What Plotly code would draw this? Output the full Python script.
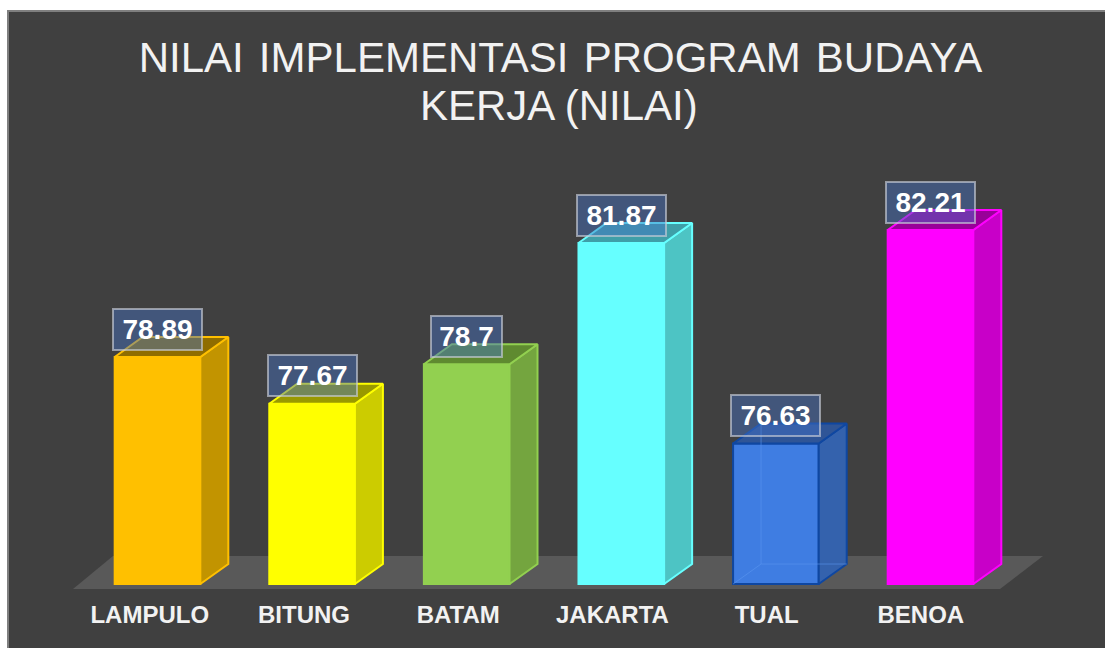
import plotly.graph_objects as go

categories = ["LAMPULO", "BITUNG", "BATAM", "JAKARTA", "TUAL", "BENOA"]
values = [78.89, 77.67, 78.7, 81.87, 76.63, 82.21]
labels = ["78.89", "77.67", "78.7", "81.87", "76.63", "82.21"]
front_colors = ["#ffc000", "#ffff00", "#92d050", "#66ffff", "#3f7de2", "#ff00ff"]
side_colors = ["#c29400", "#cccc00", "#74a53f", "#4dc4c4", "#3462ad", "#c800c8"]
top_colors = ["#8f6d00", "#999900", "#5f8a30", "#3f9fa8", "#2f5597", "#990099"]
edge_colors = ["#ffc000", "#ffff00", "#92d050", "#66ffff", "#0f47a1", "#ff00ff"]

BASE = 72.956
AXIS_MIN = 72.826
AXIS_MAX = 87.936
BAR_W = 0.554
DX = 0.181
DY = 0.523
FLOOR_BACK = 0.732
W, H = 1105, 648
ML, MT, MB = 8, 11, 59
PX = 154.6
x0_range = (ML - 157.5) / PX
x1_range = (W - 157.5) / PX

fig = go.Figure()
xs = list(range(len(categories)))
fig.add_trace(go.Bar(
    x=xs, y=[v - BASE for v in values], base=BASE, width=BAR_W,
    marker=dict(color=front_colors, line=dict(color=edge_colors, width=2)),
    hoverinfo="skip", showlegend=False,
))
for i, v in enumerate(values):
    l, r = i - BAR_W / 2, i + BAR_W / 2
    fig.add_trace(go.Scatter(
        x=[r, r + DX, r + DX, r, r], y=[BASE, BASE + DY, v + DY, v, BASE],
        mode="lines", fill="toself", fillcolor=side_colors[i],
        line=dict(color=edge_colors[i], width=2), hoverinfo="skip", showlegend=False,
    ))
    fig.add_trace(go.Scatter(
        x=[l, l + DX, r + DX, r, l], y=[v, v + DY, v + DY, v, v],
        mode="lines", fill="toself", fillcolor=top_colors[i],
        line=dict(color=edge_colors[i], width=2), hoverinfo="skip", showlegend=False,
    ))

# faint rear edges of the translucent TUAL bar
t = categories.index("TUAL")
lt, rt = t - BAR_W / 2, t + BAR_W / 2
fig.add_trace(go.Scatter(
    x=[lt + DX, lt + DX, None, lt, lt + DX, rt + DX],
    y=[values[t] + DY, BASE + DY, None, BASE, BASE + DY, BASE + DY],
    mode="lines", line=dict(color="rgba(90,150,240,0.6)", width=1),
    hoverinfo="skip", showlegend=False,
))

ph = H - MT - MB
fig.add_shape(type="rect", xref="paper", yref="paper", x0=0, x1=1.01, y0=-(MB + 4) / ph, y1=1,
              fillcolor="#404040", line=dict(color="#7f7f7f", width=2), layer="below")
fig.add_shape(type="path", xref="x", yref="y", layer="below", line=dict(width=0),
              fillcolor="#595959",
              path=f"M {(73-157.5)/PX} {AXIS_MIN} L {(1000-157.5)/PX} {AXIS_MIN} "
                   f"L {(1043-157.5)/PX} {BASE + FLOOR_BACK} L {(113-157.5)/PX} {BASE + FLOOR_BACK} Z")

for i, v in enumerate(values):
    fig.add_annotation(x=i, y=v, yshift=28, xanchor="center", yanchor="middle",
                       text=f"<b>{labels[i]}</b>", showarrow=False,
                       font=dict(family="Liberation Sans", size=28, color="white"),
                       width=85 if len(labels[i]) > 4 else 67, height=37, borderwidth=2,
                       bgcolor="rgba(68,114,196,0.45)", bordercolor="rgba(200,205,215,0.65)")

fig.add_annotation(xref="paper", yref="paper", x=(559 - ML) / (W - ML), y=1 - (105 - MT) / ph,
                   xanchor="center", yanchor="middle", showarrow=False, text="KERJA (NILAI)",
                   font=dict(family="Liberation Sans", size=42, color="#f2f2f2"))

fig.update_layout(
    width=W, height=H, autosize=False,
    margin=dict(l=ML, r=0, t=MT, b=MB, pad=0),
    paper_bgcolor="white", plot_bgcolor="rgba(0,0,0,0)",
    font=dict(family="Liberation Sans", color="white"),
    showlegend=False,
    title=dict(text="NILAI \u200aIMPLEMENTASI \u200aPROGRAM \u200aBUDAYA",
               font=dict(family="Liberation Sans", size=42, color="#f2f2f2"),
               x=560.5 / W, xanchor="center", y=1 - 57 / H, yanchor="middle"),
    xaxis=dict(range=[x0_range, x1_range], tickvals=[0.9975 * i - 0.05 for i in xs], ticktext=categories,
               showgrid=False, zeroline=False, showline=False, ticks="",
               ticklabelstandoff=9, fixedrange=True,
               tickfont=dict(family="Liberation Sans", size=24, color="#f2f2f2", weight="bold")),
    yaxis=dict(range=[AXIS_MIN, AXIS_MAX], visible=False, fixedrange=True),
)
fig.write_html("out.html", config=dict(displayModeBar=False),
               post_script="document.body.style.margin='0';document.body.style.overflow='hidden';")
